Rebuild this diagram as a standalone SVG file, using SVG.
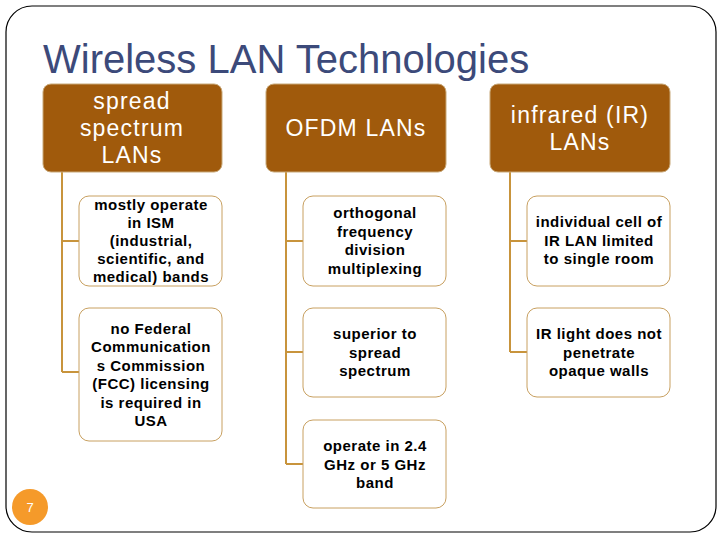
<svg xmlns="http://www.w3.org/2000/svg" width="720" height="540" viewBox="0 0 720 540">
<style>
.h{fill:#a05a0c;stroke:#c8a878;stroke-width:1}
.c{fill:#fff;stroke:#c8a060;stroke-width:1}
.ht{font-family:"Liberation Sans",Arial,sans-serif;font-size:23px;fill:#fff;text-anchor:middle;letter-spacing:1.2px}
.ct{font-family:"Liberation Sans",Arial,sans-serif;font-size:15px;font-weight:bold;fill:#000;text-anchor:middle;letter-spacing:0.5px}
.ln{stroke:#c8943c;stroke-width:2;fill:none}
</style>
<rect x="6" y="6" width="710" height="526" rx="26" fill="#fff" stroke="#000" stroke-width="1.2"/>
<text x="43" y="73" font-family="'Liberation Sans',Arial,sans-serif" font-size="40" fill="#3c4a7a">Wireless LAN Technologies</text>
<g id="connectors">
<path class="ln" d="M62 172V372M62 241H79M62 372H79"/>
<path class="ln" d="M286 172V464M286 241H303M286 352H303M286 464H303"/>
<path class="ln" d="M510 172V352M510 241H527M510 352H527"/>
</g>
<g id="h1"><rect class="h" x="43" y="84" width="179" height="88" rx="8"/><text class="ht"><tspan x="132" y="109">spread</tspan><tspan x="132" y="136">spectrum</tspan><tspan x="132" y="163">LANs</tspan></text></g>
<g id="h2"><rect class="h" x="266" y="84" width="180" height="88" rx="8"/><text class="ht" x="356" y="136">OFDM LANs</text></g>
<g id="h3"><rect class="h" x="490" y="84" width="180" height="88" rx="8"/><text class="ht"><tspan x="580" y="123">infrared (IR)</tspan><tspan x="580" y="150">LANs</tspan></text></g>
<g id="c11"><rect class="c" x="79" y="196" width="143" height="90" rx="10"/><text class="ct"><tspan x="151" y="210">mostly operate</tspan><tspan x="151" y="228">in ISM</tspan><tspan x="151" y="246">(industrial,</tspan><tspan x="151" y="264">scientific, and</tspan><tspan x="151" y="282">medical) bands</tspan></text></g>
<g id="c12"><rect class="c" x="79" y="308" width="143" height="133" rx="10"/><text class="ct"><tspan x="151" y="334">no Federal</tspan><tspan x="151" y="352">Communication</tspan><tspan x="151" y="371">s Commission</tspan><tspan x="151" y="389">(FCC) licensing</tspan><tspan x="151" y="408">is required in</tspan><tspan x="151" y="426">USA</tspan></text></g>
<g id="c21"><rect class="c" x="303" y="196" width="143" height="90" rx="10"/><text class="ct"><tspan x="375" y="218">orthogonal</tspan><tspan x="375" y="237">frequency</tspan><tspan x="375" y="255">division</tspan><tspan x="375" y="274">multiplexing</tspan></text></g>
<g id="c22"><rect class="c" x="303" y="308" width="143" height="89" rx="10"/><text class="ct"><tspan x="375" y="339">superior to</tspan><tspan x="375" y="358">spread</tspan><tspan x="375" y="376">spectrum</tspan></text></g>
<g id="c23"><rect class="c" x="303" y="420" width="143" height="88" rx="10"/><text class="ct"><tspan x="375" y="451">operate in 2.4</tspan><tspan x="375" y="470">GHz or 5 GHz</tspan><tspan x="375" y="488">band</tspan></text></g>
<g id="c31"><rect class="c" x="527" y="196" width="143" height="90" rx="10"/><text class="ct"><tspan x="599" y="227">individual cell of</tspan><tspan x="599" y="246">IR LAN limited</tspan><tspan x="599" y="264">to single room</tspan></text></g>
<g id="c32"><rect class="c" x="527" y="308" width="143" height="89" rx="10"/><text class="ct"><tspan x="599" y="339">IR light does not</tspan><tspan x="599" y="358">penetrate</tspan><tspan x="599" y="376">opaque walls</tspan></text></g>
<circle cx="30" cy="507" r="18" fill="#f59a2a"/>
<text x="30" y="512" font-family="'Liberation Sans',Arial,sans-serif" font-size="13" fill="#fff" text-anchor="middle">7</text>
</svg>
